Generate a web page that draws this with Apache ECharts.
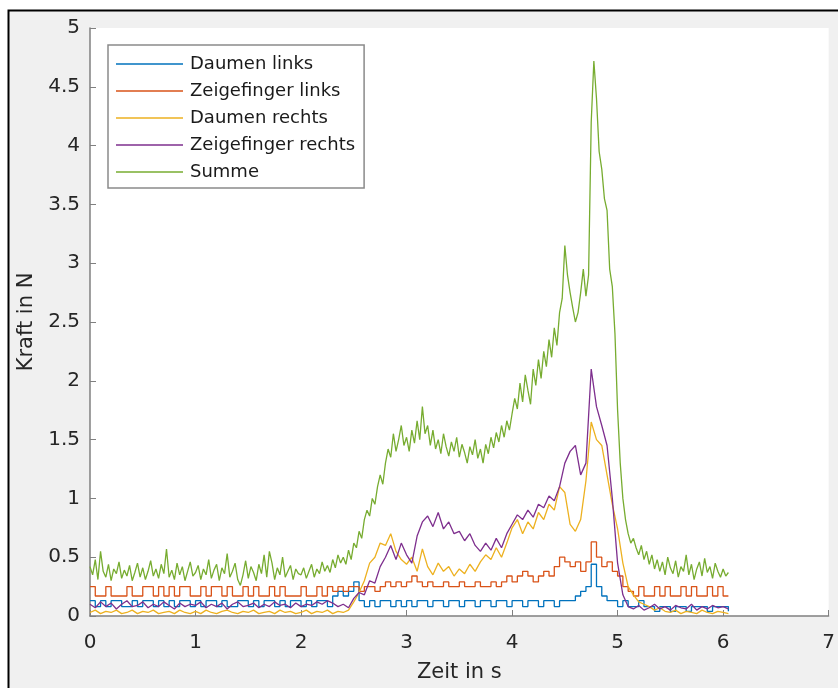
<!DOCTYPE html>
<html>
<head>
<meta charset="utf-8">
<script src="https://cdn.jsdelivr.net/npm/echarts@6/dist/echarts.min.js"></script>
<style>
  html, body { margin: 0; padding: 0; background: #fff; }
  #chart { width: 838px; height: 688px; }
</style>
</head>
<body>
<div id="chart"></div>
<script>
// Abtastschritte in s (Einzelfinger grob, Summe fein)
const dtFinger = 0.05
const dtSumme = 0.025

const daumenLinks = [
  0.13,0.08,0.13,0.08,0.13,0.13,0.08,0.08,0.13,0.08,0.13,0.13,0.08,0.13,0.08,0.13,0.08,0.13,0.13,0.08,
  0.13,0.08,0.13,0.13,0.08,0.13,0.08,0.08,0.13,0.13,0.08,0.13,0.08,0.13,0.13,0.08,0.13,0.08,0.13,0.13,
  0.08,0.13,0.08,0.13,0.13,0.08,0.17,0.21,0.17,0.21,0.29,0.13,0.08,0.13,0.08,0.13,0.13,0.08,0.13,0.08,
  0.13,0.08,0.13,0.13,0.08,0.13,0.13,0.08,0.13,0.13,0.08,0.13,0.13,0.08,0.13,0.13,0.08,0.13,0.13,0.08,
  0.13,0.13,0.08,0.13,0.13,0.08,0.13,0.13,0.08,0.13,0.13,0.13,0.17,0.21,0.25,0.44,0.25,0.17,0.13,0.13,
  0.08,0.13,0.08,0.08,0.13,0.08,0.08,0.04,0.08,0.08,0.04,0.08,0.08,0.04,0.08,0.08,0.08,0.04,0.08,0.08,
  0.08,0.04
]
const zeigefingerLinks = [
  0.25,0.17,0.17,0.25,0.17,0.17,0.17,0.25,0.17,0.17,0.25,0.25,0.17,0.25,0.17,0.25,0.17,0.25,0.25,0.17,
  0.17,0.25,0.17,0.25,0.25,0.17,0.25,0.17,0.17,0.25,0.17,0.25,0.17,0.17,0.25,0.17,0.25,0.17,0.17,0.17,
  0.25,0.17,0.17,0.25,0.17,0.25,0.21,0.25,0.21,0.25,0.25,0.21,0.25,0.25,0.21,0.25,0.29,0.25,0.29,0.25,
  0.29,0.34,0.29,0.25,0.29,0.25,0.25,0.29,0.25,0.25,0.29,0.25,0.25,0.29,0.25,0.25,0.29,0.25,0.29,0.34,
  0.29,0.34,0.38,0.34,0.29,0.34,0.38,0.34,0.42,0.50,0.46,0.42,0.46,0.38,0.46,0.63,0.50,0.42,0.46,0.38,
  0.34,0.25,0.21,0.17,0.25,0.17,0.17,0.25,0.17,0.25,0.17,0.17,0.25,0.17,0.25,0.17,0.17,0.25,0.17,0.25,
  0.17,0.17
]
const daumenRechts = [
  0.03,0.05,0.02,0.04,0.03,0.05,0.02,0.03,0.05,0.02,0.04,0.03,0.05,0.02,0.03,0.04,0.02,0.05,0.03,0.02,
  0.04,0.02,0.05,0.03,0.02,0.04,0.05,0.03,0.02,0.04,0.03,0.05,0.02,0.03,0.04,0.02,0.05,0.03,0.04,0.02,
  0.03,0.05,0.02,0.04,0.03,0.05,0.02,0.04,0.03,0.05,0.12,0.20,0.30,0.45,0.50,0.62,0.60,0.70,0.55,0.48,
  0.44,0.50,0.38,0.57,0.42,0.35,0.45,0.38,0.42,0.34,0.40,0.36,0.44,0.38,0.46,0.52,0.48,0.58,0.50,0.62,
  0.75,0.82,0.70,0.80,0.74,0.88,0.82,0.95,0.90,1.10,1.05,0.78,0.72,0.82,1.15,1.65,1.50,1.45,1.20,0.95,
  0.74,0.45,0.25,0.18,0.12,0.10,0.08,0.05,0.07,0.04,0.03,0.05,0.02,0.04,0.03,0.02,0.05,0.03,0.02,0.04,
  0.03,0.02
]
const zeigefingerRechts = [
  0.10,0.07,0.12,0.08,0.11,0.06,0.10,0.13,0.08,0.09,0.12,0.07,0.10,0.08,0.12,0.09,0.06,0.11,0.08,0.10,
  0.09,0.12,0.07,0.10,0.08,0.11,0.06,0.10,0.12,0.08,0.09,0.11,0.07,0.10,0.08,0.12,0.09,0.10,0.07,0.11,
  0.08,0.10,0.09,0.12,0.10,0.13,0.11,0.08,0.10,0.07,0.15,0.20,0.18,0.30,0.28,0.42,0.50,0.60,0.48,0.62,
  0.52,0.45,0.68,0.80,0.85,0.76,0.88,0.74,0.80,0.70,0.72,0.64,0.70,0.60,0.55,0.62,0.56,0.66,0.58,0.70,
  0.78,0.86,0.82,0.90,0.84,0.95,0.92,1.02,0.98,1.10,1.30,1.40,1.45,1.20,1.30,2.10,1.78,1.62,1.45,1.00,
  0.45,0.18,0.08,0.06,0.09,0.05,0.07,0.10,0.06,0.08,0.05,0.09,0.07,0.06,0.10,0.05,0.08,0.06,0.09,0.07,
  0.08,0.06
]
const summe = [
  0.42,0.35,0.48,0.31,0.55,0.38,0.33,0.44,0.30,0.40,0.36,0.46,0.32,0.39,0.34,0.43,0.30,0.37,0.45,0.33,
  0.41,0.31,0.38,0.47,0.34,0.40,0.32,0.44,0.36,0.57,0.33,0.39,0.31,0.45,0.35,0.42,0.30,0.38,0.46,0.34,
  0.37,0.43,0.31,0.40,0.35,0.48,0.32,0.39,0.44,0.30,0.41,0.36,0.53,0.33,0.38,0.45,0.31,0.26,0.35,0.47,
  0.32,0.42,0.37,0.30,0.44,0.36,0.52,0.33,0.55,0.45,0.31,0.41,0.35,0.50,0.33,0.38,0.43,0.31,0.40,0.36,
  0.35,0.41,0.32,0.38,0.44,0.33,0.40,0.36,0.46,0.38,0.43,0.37,0.48,0.41,0.52,0.45,0.50,0.44,0.56,0.48,
  0.62,0.58,0.72,0.66,0.82,0.90,0.85,1.00,0.95,1.10,1.20,1.12,1.30,1.42,1.35,1.55,1.40,1.50,1.62,1.45,
  1.52,1.40,1.58,1.47,1.66,1.50,1.78,1.55,1.62,1.45,1.58,1.42,1.50,1.38,1.55,1.44,1.36,1.48,1.40,1.52,
  1.35,1.46,1.39,1.30,1.44,1.37,1.50,1.34,1.42,1.30,1.46,1.38,1.52,1.43,1.56,1.48,1.62,1.52,1.66,1.58,
  1.72,1.85,1.76,1.98,1.82,2.05,1.92,1.80,2.10,1.96,2.18,2.02,2.25,2.12,2.35,2.20,2.45,2.30,2.58,2.70,
  3.15,2.90,2.75,2.62,2.50,2.58,2.75,2.95,2.72,2.90,4.20,4.72,4.40,3.95,3.80,3.55,3.45,2.95,2.80,2.40,
  1.75,1.30,1.00,0.82,0.70,0.62,0.66,0.58,0.52,0.60,0.48,0.55,0.44,0.52,0.40,0.48,0.38,0.46,0.35,0.50,
  0.41,0.36,0.47,0.33,0.42,0.38,0.52,0.35,0.44,0.31,0.40,0.46,0.34,0.49,0.37,0.42,0.32,0.45,0.38,0.33,
  0.40,0.34,0.37
]

const names = ['Daumen links', 'Zeigefinger links', 'Daumen rechts', 'Zeigefinger rechts', 'Summe']
const colors = ['#0072BD', '#D95319', '#EDB120', '#7E2F8E', '#77AC30']
const values = [daumenLinks, zeigefingerLinks, daumenRechts, zeigefingerRechts, summe]
const steps = [dtFinger, dtFinger, dtFinger, dtFinger, dtSumme]
const stepped = [true, true, false, false, false]

function pairs(arr, dt) {
  return arr.map((v, i) => [+(i * dt).toFixed(3), v])
}

let myChart = echarts.init(document.getElementById('chart'))
const font = '"DejaVu Sans", Verdana, sans-serif'
var option = {
  animation: false,
  backgroundColor: '#fff',
  textStyle: { fontFamily: font },
  graphic: [{
    type: 'rect',
    z: -10,
    shape: { x: 8.5, y: 10.5, width: 900, height: 900 },
    style: { fill: '#f0f0f0', stroke: '#000', lineWidth: 2 }
  }],
  grid: {
    left: 90,
    right: 5,
    top: 28,
    bottom: 72,
    show: true,
    backgroundColor: '#fff',
    borderWidth: 0
  },
  legend: {
    data: names,
    orient: 'vertical',
    left: 108,
    top: 45,
    icon: 'rect',
    itemWidth: 67,
    itemHeight: 1.5,
    itemGap: 7,
    padding: [9, 9, 6, 8],
    backgroundColor: '#fff',
    borderColor: '#8a8a8a',
    borderWidth: 1.5,
    borderRadius: 0,
    textStyle: {
      color: '#1a1a1a',
      fontSize: 18,
      lineHeight: 20,
      padding: [0, 0, 0, 2],
      fontFamily: font
    }
  },
  xAxis: {
    type: 'value',
    min: 0,
    max: 7,
    interval: 1,
    name: 'Zeit in s',
    nameLocation: 'middle',
    nameGap: 46,
    nameTextStyle: { color: '#262626', fontSize: 21, fontFamily: font },
    axisLine: { lineStyle: { color: '#808080', width: 1.5 } },
    axisTick: { inside: true, length: 6, lineStyle: { color: '#808080' } },
    axisLabel: { color: '#262626', fontSize: 20, margin: 17, fontFamily: font },
    splitLine: { show: false }
  },
  yAxis: {
    type: 'value',
    min: 0,
    max: 5,
    interval: 0.5,
    name: 'Kraft in N',
    nameLocation: 'middle',
    nameGap: 50,
    nameTextStyle: { color: '#262626', fontSize: 21, fontFamily: font },
    axisLine: { show: true, lineStyle: { color: '#808080', width: 1.5 } },
    axisTick: { show: true, inside: true, length: 6, lineStyle: { color: '#808080' } },
    axisLabel: { color: '#262626', fontSize: 20, margin: 10, fontFamily: font },
    splitLine: { show: false }
  },
  series: values.map((arr, k) => ({
    name: names[k],
    type: 'line',
    data: pairs(arr, steps[k]),
    step: stepped[k] ? 'end' : false,
    symbol: 'none',
    color: colors[k],
    lineStyle: { color: colors[k], width: 1.3 }
  }))
}
myChart.setOption(option)
</script>
</body>
</html>
